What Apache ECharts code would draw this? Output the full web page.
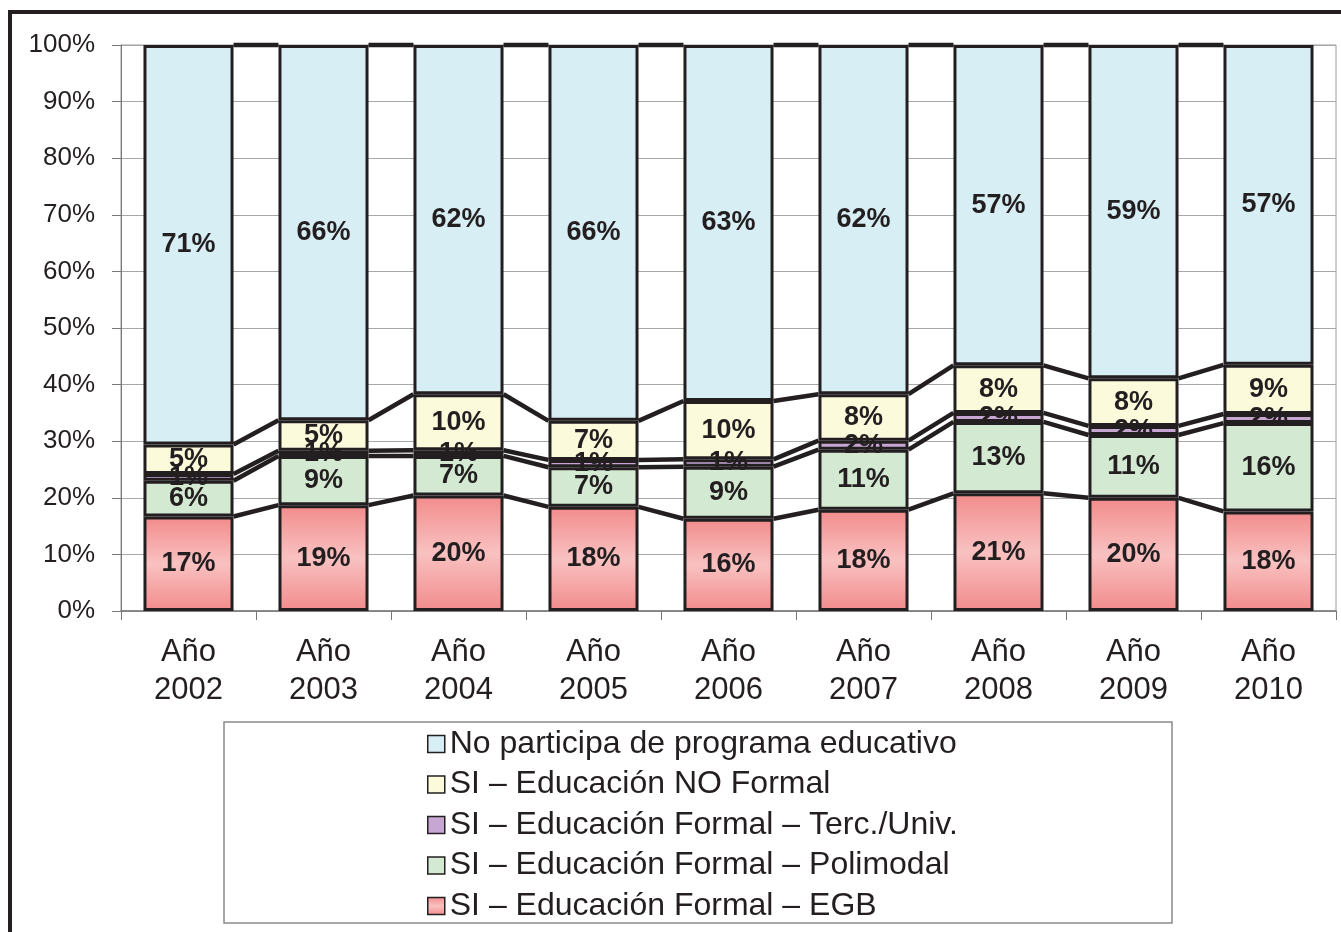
<!DOCTYPE html>
<html lang="es">
  <head>
    <meta charset="UTF-8" />
    <title>Participación en programas educativos 2002-2010</title>
    <script src="https://cdn.jsdelivr.net/npm/echarts@6/dist/echarts.min.js"></script>
    <style>
      html, body { margin: 0; padding: 0; background: #fff; }
      #chart { width: 1341px; height: 932px; }
    </style>
  </head>
  <body>
    <div id="chart"></div>
  </body>
</html>
<script>
  // datos (% por año)
  const years = ["Año\n2002", "Año\n2003", "Año\n2004", "Año\n2005", "Año\n2006", "Año\n2007", "Año\n2008", "Año\n2009", "Año\n2010"];
  const egb = [16.7, 18.7, 20.4, 18.4, 16.3, 17.9, 20.8, 20.0, 17.6];
  const polimodal = [6.3, 8.7, 7.0, 7.0, 9.2, 10.6, 12.6, 11.1, 15.6];
  const terciario = [1.2, 0.9, 1.0, 1.3, 1.3, 1.6, 1.6, 1.6, 1.6];
  const noFormal = [5.2, 5.4, 9.9, 6.9, 10.3, 8.2, 8.4, 8.4, 8.7];
  const noParticipa = [70.6, 66.3, 61.7, 66.4, 62.9, 61.7, 56.6, 58.9, 56.5];

  const names = [
    "SI – Educación Formal – EGB",
    "SI – Educación Formal – Polimodal",
    "SI – Educación Formal – Terc./Univ.",
    "SI – Educación NO Formal",
    "No participa de programa educativo",
  ];
  const stackData = [egb, polimodal, terciario, noFormal, noParticipa];

  const ink = "#231f20";
  const font = "'Liberation Sans', Arial, sans-serif";
  const colors = [
    { type: "linear", x: 0, y: 0, x2: 0, y2: 1,
      colorStops: [
        { offset: 0, color: "#f28b8b" },
        { offset: 0.5, color: "#f9c1c1" },
        { offset: 1, color: "#f28b8b" },
      ] },
    "#d3e9d2",
    "#c7a6d3",
    "#fbfadb",
    "#d8eef5",
  ];

  // líneas de serie: tope acumulado de cada segmento, de una barra a la siguiente
  const lineData = [];
  for (let i = 0; i < years.length - 1; i++) {
    let a = 0, b = 0;
    stackData.forEach((arr) => {
      a += arr[i];
      b += arr[i + 1];
      lineData.push([i, a, b]);
    });
  }

  const barRatio = 0.667;

  const chart = echarts.init(document.getElementById("chart"));
  const option = {
    animation: false,
    textStyle: { fontFamily: font, color: ink },
    grid: {
      left: 121, right: 5, top: 45, bottom: 321,
      show: true, borderColor: "#9a9a9a", borderWidth: 1,
    },
    xAxis: {
      type: "category",
      data: years,
      axisLine: { lineStyle: { color: "#777", width: 1.5 } },
      axisTick: { show: true, length: 9, lineStyle: { color: "#777" } },
      axisLabel: {
        fontSize: 31, lineHeight: 38, color: ink, margin: 22, interval: 0,
        fontFamily: font,
      },
    },
    yAxis: {
      type: "value",
      min: 0, max: 100, interval: 10,
      axisLine: { show: true, lineStyle: { color: "#777", width: 1 } },
      axisTick: { show: true, length: 9, lineStyle: { color: "#777" } },
      splitLine: { lineStyle: { color: "#a8a8a8", width: 1 } },
      axisLabel: {
        formatter: "{value}%", fontSize: 26, color: ink, margin: 26,
        fontFamily: font,
      },
    },
    legend: {
      orient: "vertical",
      left: 427, top: 728,
      padding: 0,
      height: 202,
      data: names.slice().reverse(),
      itemWidth: 17, itemHeight: 17, itemGap: 8.5, itemTextGap: 7,
      icon: "rect",
      itemStyle: { borderColor: ink, borderWidth: 1.5 },
      textStyle: { fontSize: 32, lineHeight: 32, color: ink, fontFamily: font },
    },
    graphic: [
      {
        type: "rect", silent: true,
        shape: { x: 10, y: 12, width: 1400, height: 1000 },
        style: { fill: null, stroke: ink, lineWidth: 4 },
      },
      {
        type: "rect", silent: true,
        shape: { x: 224, y: 722, width: 948, height: 201 },
        style: { fill: null, stroke: "#8a8a8a", lineWidth: 1.5 },
      },
    ],
    series: [
      ...stackData.map((arr, k) => ({
        name: names[k],
        type: "bar",
        stack: "total",
        data: arr,
        barWidth: (barRatio * 100).toFixed(1) + "%",
        itemStyle: { color: colors[k], borderColor: ink, borderWidth: 3 },
        label: {
          show: true,
          position: "inside",
          formatter: (p) => Math.round(p.value) + "%",
          fontSize: 27, fontWeight: "bold", color: ink, fontFamily: font,
        },
        z: 3,
      })),
      {
        type: "custom",
        data: lineData,
        silent: true,
        clip: false,
        z: 2,
        renderItem: (params, api) => {
          const i = api.value(0);
          const half = (api.size([1, 0])[0] * barRatio) / 2;
          const p1 = api.coord([i, api.value(1)]);
          const p2 = api.coord([i + 1, api.value(2)]);
          return {
            type: "line",
            shape: { x1: p1[0] + half, y1: p1[1], x2: p2[0] - half, y2: p2[1] },
            style: { stroke: ink, lineWidth: 4.5 },
          };
        },
      },
    ],
  };
  chart.setOption(option);
</script>
